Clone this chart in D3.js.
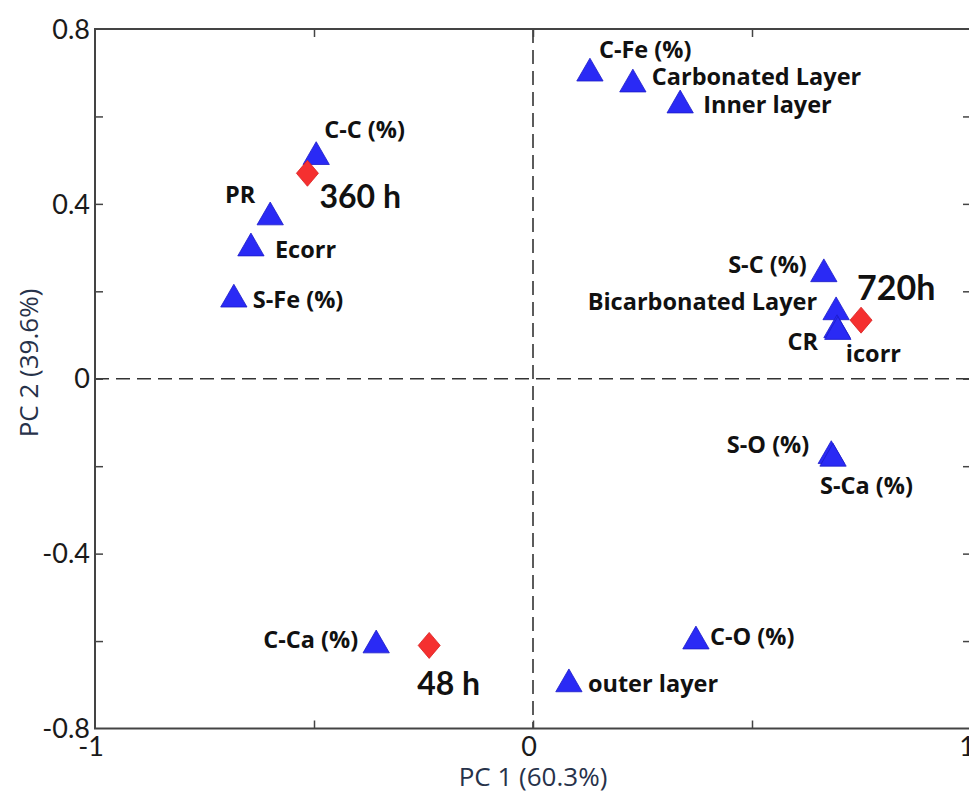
<!DOCTYPE html>
<html><head><meta charset="utf-8">
<script src="https://cdn.jsdelivr.net/npm/d3@7"></script>
<style>
html,body{margin:0;padding:0;background:#fff;}
svg{display:block;}
</style></head>
<body>
<svg id="chart" width="969" height="795"></svg>
<script>
// ---- data ----
const varNames = ["C-C (%)","PR","Ecorr","S-Fe (%)","C-Fe (%)","Carbonated Layer","Inner layer","S-C (%)","Bicarbonated Layer","CR","icorr","S-O (%)","S-Ca (%)","C-Ca (%)","C-O (%)","outer layer"];
const varPC1 = [-0.495,-0.600,-0.644,-0.683,0.130,0.228,0.336,0.664,0.692,0.694,0.696,0.681,0.685,-0.358,0.372,0.082];
const varPC2 = [0.512,0.374,0.303,0.186,0.703,0.678,0.630,0.244,0.157,0.116,0.112,-0.172,-0.178,-0.605,-0.596,-0.694];
const timeNames = ["360 h","720h","48 h"];
const timePC1 = [-0.515,0.749,-0.237];
const timePC2 = [0.470,0.134,-0.610];
const xTickLabels = [-1,0,1];
const yTickLabels = [0.8,0.4,0,-0.4,-0.8];
const xMinorTicks = [-0.5,0,0.5];
const yMinorTicks = [0.6,0.4,0.2,0,-0.2,-0.4,-0.6];
// label placement (pixel offsets from marker, anchor)
const varLabelPos = [[8,-17,"start"],[-15,-12,"end"],[24,12,"start"],[19,11,"start"],[9,-13,"start"],[19,3,"start"],[23,10,"start"],[-17,1,"end"],[-19,0,"end"],[-19,22,"end"],[8,32,"start"],[-22,-1,"end"],[-13,37,"start"],[-18,5,"end"],[14,6,"start"],[19,10,"start"]];
const timeLabelPos = [[12,35,32],[-4,-20,34],[-12,50,32]];

// ---- layout ----
const svg = d3.select("#chart");
const L = 95, R = 971, T = 29, B = 728.5;
const x = d3.scaleLinear().domain([-1,1]).range([L,R]);
const y = d3.scaleLinear().domain([-0.8,0.8]).range([B,T]);
const font = "Lato, 'Open Sans', sans-serif";
const font2 = "'Open Sans', Lato, sans-serif";

// zero dashed lines
svg.append("line").attr("x1",x(0)).attr("x2",x(0)).attr("y1",T).attr("y2",B)
  .attr("stroke","#333").attr("stroke-width",1.6).attr("stroke-dasharray","14,7");
svg.append("line").attr("x1",L).attr("x2",R).attr("y1",y(0)).attr("y2",y(0))
  .attr("stroke","#333").attr("stroke-width",1.6).attr("stroke-dasharray","14,7");

// axes using d3 axis generators (inner ticks)
const axStyle = g => { g.select(".domain").remove(); g.selectAll("line").attr("stroke","#444").attr("stroke-width",1.5); g.selectAll("text").remove(); };
svg.append("g").attr("transform",`translate(0,${B})`).call(d3.axisTop(x).tickValues(xMinorTicks).tickSize(8)).call(axStyle);
svg.append("g").attr("transform",`translate(0,${T})`).call(d3.axisBottom(x).tickValues(xMinorTicks).tickSize(8)).call(axStyle);
svg.append("g").attr("transform",`translate(${L},0)`).call(d3.axisRight(y).tickValues(yMinorTicks).tickSize(8)).call(axStyle);
svg.append("g").attr("transform",`translate(${R},0)`).call(d3.axisLeft(y).tickValues(yMinorTicks).tickSize(8)).call(axStyle);

// box
svg.append("rect").attr("x",L).attr("y",T).attr("width",R-L).attr("height",B-T)
  .attr("fill","none").attr("stroke","#444").attr("stroke-width",2);

// tick labels
svg.append("g").selectAll("text").data(yTickLabels).join("text")
  .attr("x",L-5).attr("y",d=>y(d)).attr("dy","0.36em")
  .attr("text-anchor","end").attr("font-family",font).attr("font-size",27).attr("fill","#1a1a1a")
  .text(d=>d);
svg.append("g").selectAll("text").data(xTickLabels).join("text")
  .attr("x",d=>x(d)-4).attr("y",B+27)
  .attr("text-anchor","middle").attr("font-family",font).attr("font-size",27).attr("fill","#1a1a1a")
  .text(d=>d);

// axis titles
svg.append("text").attr("x",x(0)).attr("y",786).attr("text-anchor","middle")
  .attr("font-family",font2).attr("font-size",26).attr("fill","#27324a").text("PC 1 (60.3%)");
svg.append("text").attr("transform",`translate(38,363) rotate(-90)`).attr("text-anchor","middle")
  .attr("font-family",font2).attr("font-size",26).attr("fill","#27324a").text("PC 2 (39.6%)");

// variable markers (triangles)
const tri = d3.symbol().type(d3.symbolTriangle).size(300);
const vars = varNames.map((n,i)=>({n,px:varPC1[i],py:varPC2[i],pos:varLabelPos[i]}));
svg.append("g").selectAll("path").data(vars).join("path")
  .attr("d",tri).attr("transform",d=>`translate(${x(d.px)},${y(d.py)+2})`)
  .attr("fill","#2a2af5").attr("stroke","#1c1cc8").attr("stroke-width",0.8);

// time markers (diamonds)
const times = timeNames.map((n,i)=>({n,px:timePC1[i],py:timePC2[i],pos:timeLabelPos[i]}));
svg.append("g").selectAll("path").data(times).join("path")
  .attr("d","M0,-13L11,0L0,13L-11,0Z").attr("transform",d=>`translate(${x(d.px)},${y(d.py)})`)
  .attr("fill","#f53030").attr("stroke","#d82020").attr("stroke-width",0.8);

// labels
svg.append("g").selectAll("text").data(vars).join("text")
  .attr("x",d=>x(d.px)+d.pos[0]).attr("y",d=>y(d.py)+d.pos[1]).attr("text-anchor",d=>d.pos[2])
  .attr("font-family",font2).attr("font-weight","bold").attr("font-size",23.5).attr("fill","#111")
  .text(d=>d.n);
svg.append("g").selectAll("text").data(times).join("text")
  .attr("x",d=>x(d.px)+d.pos[0]).attr("y",d=>y(d.py)+d.pos[1])
  .attr("font-family",font).attr("font-weight","bold").attr("font-size",d=>d.pos[2]).attr("fill","#111")
  .text(d=>d.n);
</script>
</body></html>
